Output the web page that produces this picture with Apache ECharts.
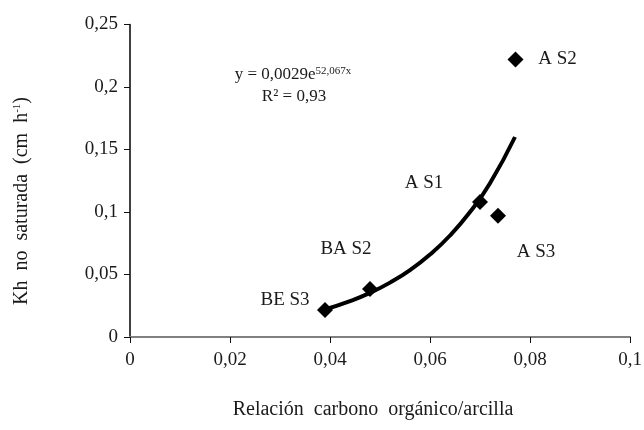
<!DOCTYPE html>
<html>
<head>
<meta charset="utf-8">
<script src="https://cdn.jsdelivr.net/npm/echarts@6/dist/echarts.min.js"></script>
<style>html,body{margin:0;padding:0;background:#fff}#c{width:644px;height:430px}</style>
</head>
<body>
<div id="c"></div>
<script>
var pointNames = ['BE S3', 'BA S2', 'A S1', 'A S3', 'A S2'];
var pointX = [0.039, 0.048, 0.070, 0.0736, 0.0771];
var pointY = [0.0216, 0.0385, 0.108, 0.097, 0.222];
var labelOffsets = [[-40, -10], [-24, -40], [-56, -19], [38, 36], [42, 0]];
var trendX = [0.039, 0.044, 0.048, 0.052, 0.056, 0.060, 0.064, 0.068, 0.072, 0.077];
var trendY = [0.022, 0.0287, 0.0353, 0.0435, 0.0535, 0.066, 0.0812, 0.100, 0.123, 0.160];
var xTicks = {min: 0, max: 0.1, interval: 0.02};
var yTicks = {min: 0, max: 0.25, interval: 0.05};

var FONT = 'Liberation Serif';
function fmt(v) { return String(+v.toFixed(3)).replace('.', ','); }

var chart = echarts.init(document.getElementById('c'));
chart.setOption({
  animation: false,
  backgroundColor: '#fff',
  grid: {left: 130, right: 14, top: 24.5, bottom: 93, containLabel: false, outerBoundsMode: 'none'},
  xAxis: {
    type: 'value', min: xTicks.min, max: xTicks.max, interval: xTicks.interval,
    axisLine: {show: true, onZero: false, lineStyle: {color: '#808080', width: 2}},
    axisTick: {show: true, length: 6, lineStyle: {color: '#111', width: 1}},
    splitLine: {show: false},
    axisLabel: {formatter: fmt, fontFamily: FONT, fontSize: 19, color: '#1a1a1a', margin: 14},
    name: 'Relación  carbono  orgánico/arcilla', nameLocation: 'middle', nameGap: 63,
    nameTextStyle: {fontFamily: FONT, fontSize: 20, color: '#1a1a1a', padding: [0, 14, 0, 0]}
  },
  yAxis: {
    type: 'value', min: yTicks.min, max: yTicks.max, interval: yTicks.interval,
    axisLine: {show: true, onZero: false, lineStyle: {color: '#000', width: 1.5}},
    axisTick: {show: true, length: 6, lineStyle: {color: '#111', width: 1}},
    splitLine: {show: false},
    axisLabel: {formatter: fmt, fontFamily: FONT, fontSize: 19, color: '#1a1a1a', margin: 12}
  },
  graphic: [
    {type: 'text', left: 12, top: 97, rotation: Math.PI / 2, originX: 0, originY: 0,
     style: {text: 'Kh  no  saturada  (cm  h{s|-1})',
       rich: {s: {fontSize: 11, verticalAlign: 'top', padding: [0, 0, 8, 0], fontFamily: FONT, fill: '#1a1a1a'}},
       fontFamily: FONT, fontSize: 20, fill: '#1a1a1a'}},
    {type: 'text', x: 293, y: 75,
     style: {text: 'y = 0,0029e{s|52,067x}', rich: {s: {fontSize: 11, verticalAlign: 'top', padding: [0,0,8,0], fontFamily: FONT, fill: '#1a1a1a'}},
       fontFamily: FONT, fontSize: 17, fill: '#1a1a1a', align: 'center', verticalAlign: 'middle'}},
    {type: 'text', x: 294, y: 97,
     style: {text: 'R² = 0,93', fontFamily: FONT, fontSize: 17, fill: '#1a1a1a', align: 'center', verticalAlign: 'middle'}}
  ],
  series: [
    {
      type: 'line', smooth: true, showSymbol: false, symbol: 'none',
      lineStyle: {color: '#000', width: 4},
      data: trendX.map(function (x, i) { return [x, trendY[i]]; }),
      z: 2
    },
    {
      type: 'scatter', symbol: 'diamond', symbolSize: 16,
      itemStyle: {color: '#000', opacity: 1},
      data: pointX.map(function (x, i) {
        return {value: [x, pointY[i]], name: pointNames[i],
          label: {show: true, position: 'inside', offset: labelOffsets[i], formatter: '{b}',
            fontFamily: FONT, fontSize: 19, color: '#1a1a1a'}};
      }),
      z: 3
    }
  ]
});
</script>
</body>
</html>
